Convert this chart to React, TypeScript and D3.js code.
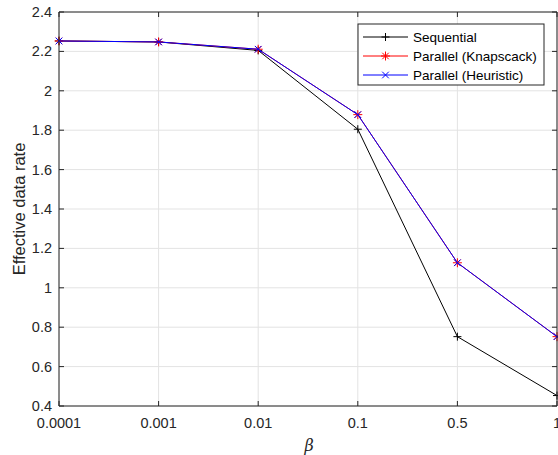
import React from "react";
import * as d3 from "d3";

const categories = ["0.0001", "0.001", "0.01", "0.1", "0.5", "1"];
const sequential = [2.253, 2.248, 2.205, 1.805, 0.752, 0.453];
const knapsack = [2.253, 2.248, 2.211, 1.879, 1.127, 0.752];
const heuristic = [2.253, 2.248, 2.211, 1.879, 1.127, 0.752];
const yTicks = [0.4, 0.6, 0.8, 1, 1.2, 1.4, 1.6, 1.8, 2, 2.2, 2.4];
const seriesNames = ["Sequential", "Parallel (Knapscack)", "Parallel (Heuristic)"];

const W = 558, H = 455;
const left = 59, right = 557, top = 12, bottom = 406;
const font = "Liberation Sans, Arial, Helvetica, sans-serif";
const axisColor = "#262626";
const gridColor = "#e3e3e3";

function Marker({ type, x, y, color }: { type: string; x: number; y: number; color: string }) {
  if (type === "+") {
    const s = 4;
    return (
      <g stroke={color} strokeWidth={1}>
        <line x1={x - s} x2={x + s} y1={y} y2={y} />
        <line x1={x} x2={x} y1={y - s} y2={y + s} />
      </g>
    );
  }
  if (type === "*") {
    const s = 4.5;
    const d = s * 0.72;
    return (
      <g stroke={color} strokeWidth={1}>
        <line x1={x - s} x2={x + s} y1={y} y2={y} />
        <line x1={x} x2={x} y1={y - s} y2={y + s} />
        <line x1={x - d} x2={x + d} y1={y - d} y2={y + d} />
        <line x1={x - d} x2={x + d} y1={y + d} y2={y - d} />
      </g>
    );
  }
  const d = 3.3;
  return (
    <g stroke={color} strokeWidth={1}>
      <line x1={x - d} x2={x + d} y1={y - d} y2={y + d} />
      <line x1={x - d} x2={x + d} y1={y + d} y2={y - d} />
    </g>
  );
}

export default function App() {
  const x = d3.scalePoint<string>().domain(categories).range([left, right]);
  const y = d3.scaleLinear().domain([0.4, 2.4]).range([bottom, top]);
  const line = d3
    .line<number>()
    .x((_, i) => x(categories[i]) as number)
    .y((d) => y(d));

  const series = [
    { name: seriesNames[0], data: sequential, color: "#000000", marker: "+" },
    { name: seriesNames[1], data: knapsack, color: "#ff0000", marker: "*" },
    { name: seriesNames[2], data: heuristic, color: "#0000ff", marker: "x" },
  ];

  const legX = 358, legY = 24, legW = 186, legH = 61;
  const rowY = [37, 56, 75];

  return (
    <svg
      width={W}
      height={H}
      style={{ position: "absolute", left: 0, top: 0, background: "#fff" }}
      fontFamily={font}
    >
      <rect x={0} y={0} width={W} height={H} fill="#fff" />
      {/* grid */}
      <g stroke={gridColor} strokeWidth={1}>
        {categories.map((c) => (
          <line key={c} x1={x(c)} x2={x(c)} y1={top} y2={bottom} />
        ))}
        {yTicks.map((t) => (
          <line key={t} x1={left} x2={right} y1={y(t)} y2={y(t)} />
        ))}
      </g>
      {/* series */}
      {series.map((s) => (
        <g key={s.name}>
          <path d={line(s.data) || ""} fill="none" stroke={s.color} strokeWidth={1} />
          {s.data.map((v, i) => (
            <Marker key={i} type={s.marker} x={x(categories[i]) as number} y={y(v)} color={s.color} />
          ))}
        </g>
      ))}
      {/* axes box */}
      <g stroke={axisColor} strokeWidth={1} fill="none">
        <line x1={left} x2={left} y1={top} y2={bottom} />
        <line x1={left} x2={right} y1={bottom} y2={bottom} />
        <line x1={left} x2={right} y1={top} y2={top} />
        <line x1={right} x2={right} y1={top} y2={bottom} />
        {categories.map((c) => (
          <g key={c}>
            <line x1={x(c)} x2={x(c)} y1={bottom} y2={bottom - 5} />
            <line x1={x(c)} x2={x(c)} y1={top} y2={top + 5} />
          </g>
        ))}
        {yTicks.map((t) => (
          <g key={t}>
            <line x1={left} x2={left + 5} y1={y(t)} y2={y(t)} />
            <line x1={right} x2={right - 5} y1={y(t)} y2={y(t)} />
          </g>
        ))}
      </g>
      {/* tick labels */}
      <g fill={axisColor} fontSize={14.5}>
        {yTicks.map((t) => (
          <text key={t} x={left - 7} y={y(t)} dy="0.35em" textAnchor="end">
            {String(t)}
          </text>
        ))}
        {categories.map((c) => (
          <text key={c} x={x(c)} y={428} textAnchor="middle">
            {c}
          </text>
        ))}
      </g>
      {/* axis labels */}
      <text
        transform={`translate(25,${(top + bottom) / 2}) rotate(-90)`}
        textAnchor="middle"
        fontSize={16.5}
        fill={axisColor}
      >
        Effective data rate
      </text>
      <text x={309} y={451} textAnchor="middle" fontSize={16} fontStyle="italic" fontFamily="DejaVu Serif, serif" fill={axisColor}>
        β
      </text>
      {/* legend */}
      <g>
        <rect x={legX} y={legY} width={legW} height={legH} fill="#fff" stroke={axisColor} strokeWidth={1} />
        {series.map((s, i) => {
          const cy = rowY[i];
          return (
            <g key={s.name}>
              <line x1={legX + 5} x2={legX + 50} y1={cy} y2={cy} stroke={s.color} strokeWidth={1} />
              <Marker type={s.marker} x={legX + 27.5} y={cy} color={s.color} />
              <text x={legX + 55} y={cy} dy="0.35em" fontSize={13.5} fill="#000">
                {s.name}
              </text>
            </g>
          );
        })}
      </g>
    </svg>
  );
}
